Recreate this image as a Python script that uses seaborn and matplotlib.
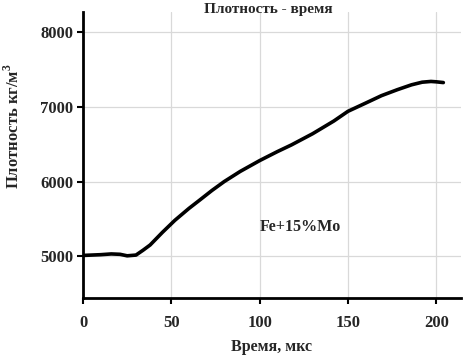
import matplotlib
matplotlib.use("Agg")
import matplotlib.pyplot as plt
import seaborn as sns
import pandas as pd

time_us = [0, 5, 10, 16, 21, 25, 30, 34, 38, 45, 52, 60, 66, 73, 80, 89, 100, 110, 118, 130, 142, 150, 160, 169, 178, 186, 192, 197, 200, 204]
density = [5010, 5015, 5020, 5030, 5025, 5005, 5015, 5080, 5150, 5320, 5480, 5640, 5750, 5880, 6000, 6135, 6280, 6400, 6490, 6640, 6810, 6940, 7050, 7150, 7230, 7295, 7330, 7340, 7335, 7325]
x_ticks = [0, 50, 100, 150, 200]
y_ticks = [5000, 6000, 7000, 8000]

sns.set_theme(style="whitegrid")
plt.rcParams['font.family'] = ['Liberation Serif', 'DejaVu Serif']
plt.rcParams['font.weight'] = 'bold'
plt.rcParams['mathtext.fontset'] = 'custom'
plt.rcParams['mathtext.rm'] = 'Liberation Serif:bold'
plt.rcParams['mathtext.bf'] = 'Liberation Serif:bold'

df = pd.DataFrame({"t": time_us, "rho": density})

fig = plt.figure(figsize=(4.63, 3.59), dpi=100)
ax = fig.add_axes([83/463, 1 - 298/359, (461 - 83)/463, (298 - 12)/359])
sns.lineplot(data=df, x="t", y="rho", ax=ax, color="black", linewidth=2.6)

ax.set_xlim(0, 214)
ax.set_ylim(4440, 8270)
ax.set_xticks(x_ticks)
ax.set_yticks(y_ticks)
ax.grid(True, color="#d9d9d9", linewidth=0.9)
for s in ["top", "right"]:
    ax.spines[s].set_visible(False)
for s in ["left", "bottom"]:
    ax.spines[s].set_color("black")
    ax.spines[s].set_linewidth(2)
ax.tick_params(axis="both", which="both", direction="out", length=4, width=1.5, color="black",
               labelsize=12, left=True, bottom=True)
ax.tick_params(axis="x", pad=8)
ax.tick_params(axis="y", pad=3)
for lab in ax.get_xticklabels() + ax.get_yticklabels():
    lab.set_fontweight("bold")

ax.set_xlabel("Время, мкс", fontsize=11.5, fontweight="bold")
ax.xaxis.set_label_coords(0.5, -0.145)
ax.set_ylabel("Плотность кг/м$^{3}$", fontsize=12, fontweight="bold")
ax.yaxis.set_label_coords(-0.16, 0.6)
fig.text(268/463, 1 - 10/359, "Плотность - время", ha="center", va="center", fontsize=11, fontweight="bold")
ax.text(123, 5390, "Fe+15%Mo", ha="center", va="center", fontsize=11.5, fontweight="bold")

fig.savefig("out.png", dpi=100)
